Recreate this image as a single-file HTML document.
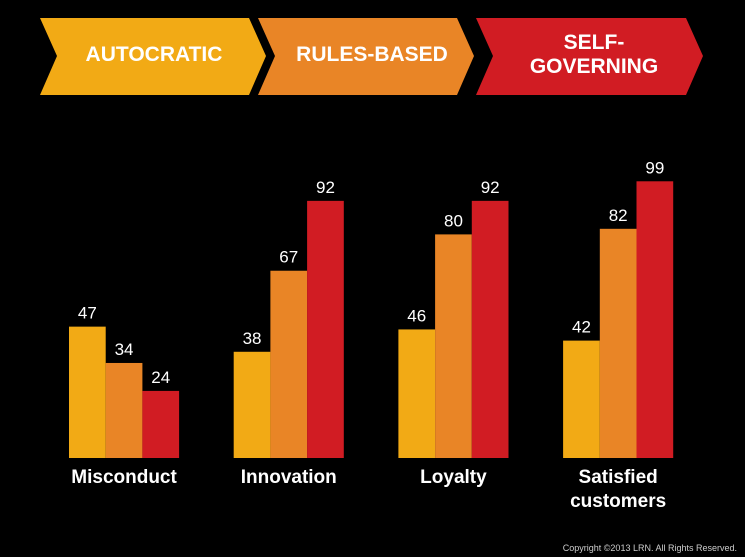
<!DOCTYPE html>
<html><head><meta charset="utf-8"><style>
html,body{margin:0;padding:0;background:#000;}
svg{display:block;font-family:"Liberation Sans",Arial,sans-serif;}
</style></head><body>
<svg id="c" width="745" height="557" viewBox="0 0 745 557">
<rect width="745" height="557" fill="#000"/>
<g>
<polygon points="40,18 249,18 266,56 249,95 40,95 57,56" fill="#f2aa15"/>
<polygon points="258,18 457,18 474,56 457,95 258,95 275,56" fill="#e98526"/>
<polygon points="476,18 686,18 703,56 686,95 476,95 493,56" fill="#d11c23"/>
<text x="154" y="61" fill="#fff" font-size="21" font-weight="bold" text-anchor="middle">AUTOCRATIC</text>
<text x="372" y="61" fill="#fff" font-size="21" font-weight="bold" text-anchor="middle">RULES-BASED</text>
<text x="594" y="49" fill="#fff" font-size="21" font-weight="bold" text-anchor="middle">SELF-</text>
<text x="594" y="73" fill="#fff" font-size="21" font-weight="bold" text-anchor="middle">GOVERNING</text>
</g>
<g id="bars"></g>
<text x="737" y="551" fill="#ccc" font-size="9" text-anchor="end">Copyright ©2013 LRN.  All Rights Reserved.</text>
</svg>
<script>
const categories = ["Misconduct","Innovation","Loyalty","Satisfied customers"];
const autocratic = [47,38,46,42];
const rulesBased = [34,67,80,82];
const selfGoverning = [24,92,92,99];
const series = [autocratic, rulesBased, selfGoverning];
const colors = ["#f2aa15","#e98526","#d11c23"];
const names = ["autocratic","rules-based","self-governing"];
const NS = "http://www.w3.org/2000/svg";
const baseY = 458, scale = 2.795, groupX0 = 69, groupStep = 164.7, barW = 36.7;
function y(v){ return baseY - v*scale; }
function gx(i){ return groupX0 + i*groupStep; }
const g = document.getElementById('bars');
categories.forEach((cat,i)=>{
  series.forEach((s,j)=>{
    const x = gx(i) + j*barW;
    const r = document.createElementNS(NS,'rect');
    r.setAttribute('x',x); r.setAttribute('y',y(s[i]));
    r.setAttribute('width',barW); r.setAttribute('height',baseY-y(s[i]));
    r.setAttribute('fill',colors[j]);
    
    
    g.appendChild(r);
    const t = document.createElementNS(NS,'text');
    t.setAttribute('x',x+barW/2); t.setAttribute('y',y(s[i])-8);
    t.setAttribute('fill','#fff'); t.setAttribute('font-size','17');
    t.setAttribute('text-anchor','middle');
    t.textContent = s[i];
    
    
    g.appendChild(t);
  });
  const words = cat === "Satisfied customers" ? ["Satisfied","customers"] : [cat];
  words.forEach((w,k)=>{
    const t = document.createElementNS(NS,'text');
    t.setAttribute('x',gx(i)+barW*1.5); t.setAttribute('y',483+k*24);
    t.setAttribute('fill','#fff'); t.setAttribute('font-size','19'); t.setAttribute('font-weight','bold');
    t.setAttribute('text-anchor','middle');
    t.textContent = w;
    
    
    g.appendChild(t);
  });
});
</script>
</body></html>
